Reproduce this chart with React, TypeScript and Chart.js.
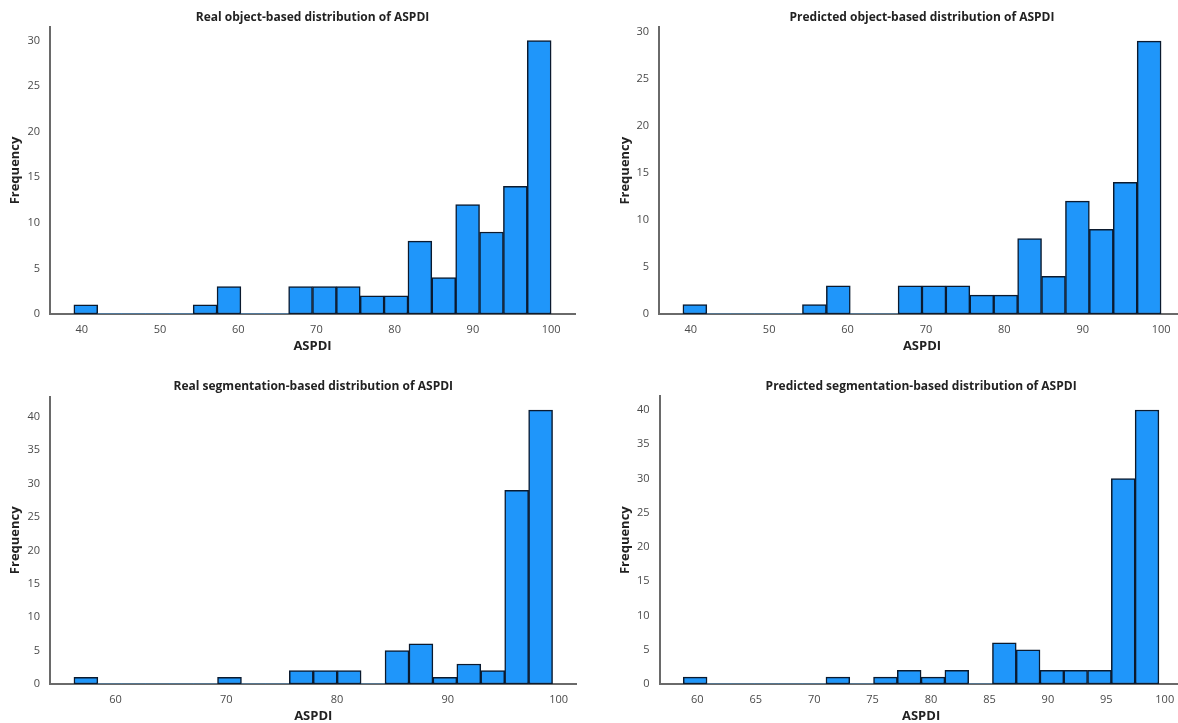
import React, { useEffect, useRef } from 'react';
import { Chart, registerables } from 'chart.js';

Chart.register(...registerables);
Chart.defaults.font.family = '"Open Sans", "DejaVu Sans", sans-serif';

// ---- Data (histogram bins: start, width, counts) ----
const objBinStart = 39.0;
const objBinWidth = 3.05;
const realObjCounts = [1, 0, 0, 0, 0, 1, 3, 0, 0, 3, 3, 3, 2, 2, 8, 4, 12, 9, 14, 30];
const predObjCounts = [1, 0, 0, 0, 0, 1, 3, 0, 0, 3, 3, 3, 2, 2, 8, 4, 12, 9, 14, 29];

const realSegBinStart = 56.25;
const realSegBinWidth = 2.16;
const realSegCounts = [1, 0, 0, 0, 0, 0, 1, 0, 0, 2, 2, 2, 0, 5, 6, 1, 3, 2, 29, 41];

const predSegBinStart = 58.8;
const predSegBinWidth = 2.035;
const predSegCounts = [1, 0, 0, 0, 0, 0, 1, 0, 1, 2, 1, 2, 0, 6, 5, 2, 2, 2, 30, 40];

const objXTicks = [40, 50, 60, 70, 80, 90, 100];
const realSegXTicks = [60, 70, 80, 90, 100];
const predSegXTicks = [60, 65, 70, 75, 80, 85, 90, 95, 100];
const objYTicks = [0, 5, 10, 15, 20, 25, 30];
const segYTicks = [0, 5, 10, 15, 20, 25, 30, 35, 40];

const titles = [
  'Real object-based distribution of ASPDI',
  'Predicted object-based distribution of ASPDI',
  'Real segmentation-based distribution of ASPDI',
  'Predicted segmentation-based distribution of ASPDI',
];
const xLabel = 'ASPDI';
const yLabel = 'Frequency';

const BAR = '#1f96fa';
const EDGE = '#0b1a2e';
const AXIS = '#6a6a6a';
const TICK = '#4a4a4a';
const TEXT = '#222222';

type Props = {
  title: string;
  counts: number[];
  binStart: number;
  binWidth: number;
  xTicks: number[];
  yTicks: number[];
  left: number;
  top: number;
  width: number;
  height: number;
  padRight: number;
  yAxisWidth: number;
  yTitlePad: number;
  titlePadTop: number;
  titlePadBottom: number;
};

function Histogram(p: Props) {
  const ref = useRef<HTMLCanvasElement>(null);
  useEffect(() => {
    if (!ref.current) return;
    const n = p.counts.length;
    const lo = p.binStart;
    const hi = p.binStart + n * p.binWidth;
    const margin = 0.05 * (hi - lo);
    const data = p.counts.map((c, i) => ({ x: lo + (i + 0.5) * p.binWidth, y: c }));
    const yMax = Math.max(...p.counts) * 1.05;
    const chart = new Chart(ref.current, {
      type: 'bar',
      data: {
        datasets: [
          {
            data: data as any,
            backgroundColor: BAR,
            borderColor: EDGE,
            borderWidth: (ctx: any) => (ctx.raw && ctx.raw.y > 0 ? 1.5 : 0),
            borderSkipped: false,
            barPercentage: 1,
            categoryPercentage: 1,
          } as any,
        ],
      },
      options: {
        animation: false,
        responsive: false,
        maintainAspectRatio: false,
        devicePixelRatio: 1,
        layout: { padding: { left: 0, right: p.padRight, top: 0, bottom: 0 } },
        plugins: {
          legend: { display: false },
          tooltip: { enabled: false },
          title: {
            display: true,
            text: p.title,
            fullSize: false,
            color: TEXT,
            font: { size: 12, weight: 'bold' },
            padding: { top: p.titlePadTop, bottom: p.titlePadBottom },
          },
        },
        scales: {
          x: {
            type: 'linear',
            offset: false,
            min: lo - margin,
            max: hi + margin,
            grid: { display: false, drawTicks: false, offset: false },
            border: { display: true, color: AXIS, width: 2 },
            ticks: { color: TICK, font: { size: 11 }, padding: 9, maxRotation: 0 },
            afterBuildTicks: (s: any) => {
              s.ticks = p.xTicks.map((v) => ({ value: v }));
            },
            afterFit: (s: any) => {
              s.height = 46;
            },
            title: {
              display: true,
              text: xLabel,
              color: TEXT,
              font: { size: 13, weight: 'bold' },
              padding: { top: 0, bottom: 6 },
            },
          },
          y: {
            type: 'linear',
            min: 0,
            max: yMax,
            grid: { display: false, drawTicks: false },
            border: { display: true, color: AXIS, width: 2 },
            ticks: { color: TICK, font: { size: 11 }, padding: 10 },
            afterBuildTicks: (s: any) => {
              s.ticks = p.yTicks.map((v) => ({ value: v }));
            },
            afterFit: (s: any) => {
              s.width = p.yAxisWidth;
            },
            title: {
              display: true,
              text: yLabel,
              color: TEXT,
              font: { size: 13, weight: 'bold' },
              padding: { top: p.yTitlePad, bottom: 0 },
            },
          },
        },
      } as any,
    });
    return () => chart.destroy();
  }, []);
  return (
    <canvas
      ref={ref}
      width={p.width}
      height={p.height}
      style={{ position: 'absolute', left: p.left, top: p.top, width: p.width, height: p.height }}
    />
  );
}

export default function App() {
  return (
    <div
      style={{
        position: 'fixed',
        left: 0,
        top: 0,
        width: 1178,
        height: 723,
        overflow: 'hidden',
        background: '#ffffff',
      }}
    >
      <Histogram
        title={titles[0]}
        counts={realObjCounts}
        binStart={objBinStart}
        binWidth={objBinWidth}
        xTicks={objXTicks}
        yTicks={objYTicks}
        left={0}
        top={0}
        width={600}
        height={360}
        padRight={25}
        yAxisWidth={50}
        yTitlePad={7}
        titlePadTop={10.5}
        titlePadBottom={2}
      />
      <Histogram
        title={titles[1]}
        counts={predObjCounts}
        binStart={objBinStart}
        binWidth={objBinWidth}
        xTicks={objXTicks}
        yTicks={objYTicks}
        left={600}
        top={0}
        width={600}
        height={360}
        padRight={15}
        yAxisWidth={59}
        yTitlePad={17}
        titlePadTop={10.5}
        titlePadBottom={2.5}
      />
      <Histogram
        title={titles[2]}
        counts={realSegCounts}
        binStart={realSegBinStart}
        binWidth={realSegBinWidth}
        xTicks={realSegXTicks}
        yTicks={segYTicks}
        left={0}
        top={360}
        width={600}
        height={370}
        padRight={23.5}
        yAxisWidth={50}
        yTitlePad={7}
        titlePadTop={19.5}
        titlePadBottom={2.6}
      />
      <Histogram
        title={titles[3]}
        counts={predSegCounts}
        binStart={predSegBinStart}
        binWidth={predSegBinWidth}
        xTicks={predSegXTicks}
        yTicks={segYTicks}
        left={600}
        top={360}
        width={600}
        height={370}
        padRight={17.3}
        yAxisWidth={59.5}
        yTitlePad={17}
        titlePadTop={19.5}
        titlePadBottom={2.4}
      />
    </div>
  );
}
